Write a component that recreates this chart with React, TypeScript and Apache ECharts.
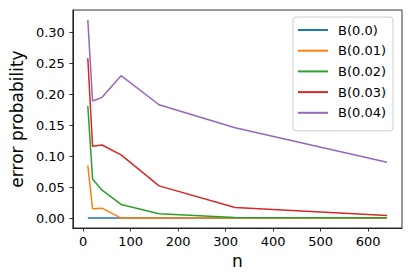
import React, { useEffect, useRef } from "react";
import * as echarts from "echarts";

const nValues = [10, 20, 40, 80, 160, 320, 640];
const seriesNames = ["B(0.0)", "B(0.01)", "B(0.02)", "B(0.03)", "B(0.04)"];
const b000 = [0, 0, 0, 0, 0, 0, 0];
const b001 = [0.085, 0.015, 0.016, 0.0, 0.0, 0.0, 0.0];
const b002 = [0.181, 0.063, 0.045, 0.022, 0.007, 0.001, 0.0005];
const b003 = [0.258, 0.116, 0.118, 0.102, 0.052, 0.017, 0.004];
const b004 = [0.32, 0.189, 0.195, 0.23, 0.183, 0.146, 0.09];
const xTicks = [0, 100, 200, 300, 400, 500, 600];
const yTicks = [0, 0.05, 0.1, 0.15, 0.2, 0.25, 0.3];
const colors = ["#1f77b4", "#ff7f0e", "#2ca02c", "#d62728", "#9467bd"];

const FONT = "DejaVu Sans";

export default function App() {
  const ref = useRef<HTMLDivElement>(null);
  useEffect(() => {
    if (!ref.current) return;
    const chart = echarts.init(ref.current, undefined, { renderer: "svg" });
    const allData = [b000, b001, b002, b003, b004];
    chart.setOption({
      animation: false,
      backgroundColor: "#ffffff",
      color: colors,
      grid: {
        left: 67,
        right: 10,
        top: 10,
        bottom: 50,
        show: true,
        borderColor: "#000",
        borderWidth: 0.8,
        backgroundColor: "transparent",
      },
      legend: {
        orient: "vertical",
        left: 293,
        top: 17,
        icon: "rect",
        itemWidth: 30,
        itemHeight: 2,
        itemGap: 4.7,
        padding: [5, 7, 10, 5],
        backgroundColor: "#ffffff",
        borderColor: "#cccccc",
        borderWidth: 1,
        borderRadius: 3,
        textStyle: {
          fontFamily: FONT,
          fontSize: 13,
          color: "#000",
          lineHeight: 16,
          padding: [0, 0, 0, 5],
        },
        data: seriesNames,
      },
      xAxis: {
        type: "value",
        min: -21.5,
        max: 671.5,
        name: "n",
        nameLocation: "middle",
        nameGap: 20,
        nameTextStyle: { fontFamily: FONT, fontSize: 17, color: "#000" },
        splitLine: { show: false },
        axisLine: { show: true, onZero: false, lineStyle: { color: "#000", width: 0.8 } },
        axisTick: {
          show: true,
          length: 3.5,
          lineStyle: { color: "#000", width: 0.8 },
          customValues: xTicks,
        },
        axisLabel: {
          fontFamily: FONT,
          fontSize: 13,
          color: "#000",
          margin: 7,
          customValues: xTicks,
          formatter: (v: number) => String(v),
        },
      },
      yAxis: {
        type: "value",
        min: -0.016,
        max: 0.336,
        name: "error probability",
        nameLocation: "middle",
        nameGap: 45,
        nameTextStyle: { fontFamily: FONT, fontSize: 17, color: "#000" },
        splitLine: { show: false },
        axisLine: { show: true, onZero: false, lineStyle: { color: "#000", width: 0.8 } },
        axisTick: {
          show: true,
          length: 3.5,
          lineStyle: { color: "#000", width: 0.8 },
          customValues: yTicks,
        },
        axisLabel: {
          fontFamily: FONT,
          fontSize: 13,
          color: "#000",
          margin: 8,
          customValues: yTicks,
          formatter: (v: number) => v.toFixed(2),
        },
      },
      series: seriesNames.map((name, i) => ({
        name,
        type: "line",
        symbol: "none",
        lineStyle: { width: 1.5, color: colors[i] },
        itemStyle: { color: colors[i] },
        data: nValues.map((n, j) => [n, allData[i][j]]),
      })),
    });
    return () => chart.dispose();
  }, []);
  return (
    <div
      ref={ref}
      style={{ position: "fixed", left: 0, top: 0, width: 412, height: 278 }}
    />
  );
}
